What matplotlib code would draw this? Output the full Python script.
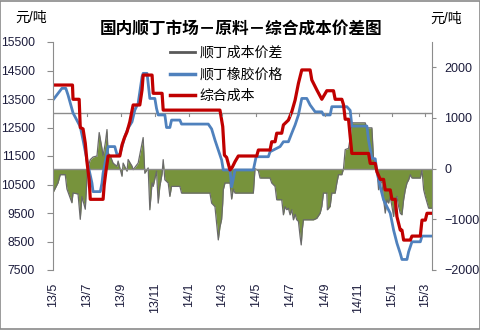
import pandas as pd
import matplotlib
matplotlib.use('Agg')
import matplotlib.pyplot as plt
from matplotlib.lines import Line2D
from matplotlib.patches import Rectangle

plt.rcParams['font.family'] = ['Liberation Sans', 'Noto Sans CJK SC']
plt.rcParams['axes.unicode_minus'] = True

# days counted from 2013-05-01
start = pd.Timestamp('2013-05-01')

rubber_day = [0, 16, 23, 27, 32, 36, 49, 54, 61, 70, 72, 85, 88, 90, 97, 99, 111, 115, 120, 124,
              129, 135, 142, 147, 153, 160, 162, 169, 171, 174, 183, 186, 189, 201, 204, 210, 213,
              228, 231, 279, 285, 291, 297, 303, 306, 318, 321, 324, 327, 360, 365, 387, 390, 408,
              414, 423, 429, 435, 441, 447, 456, 462, 471, 483, 486, 498, 501, 528, 534, 537, 564,
              567, 573, 579, 582, 588, 594, 600, 606, 612, 618, 624, 627, 636, 639, 645, 660, 663, 681]
rubber_price = [13465, 13875, 13875, 13640, 13290, 13010, 12530, 12060, 11360, 10550, 10250, 10250,
                10550, 10900, 11600, 11830, 11830, 11550, 11550, 11830, 12180, 12480, 12700, 13110,
                13350, 14280, 14400, 14400, 14050, 13520, 13520, 13170, 12940, 12940, 12500, 12500,
                12760, 12760, 12620, 12620, 12450, 12060, 11710, 11360, 11010, 11010, 10420, 10700,
                11010, 11010, 11475, 11475, 11650, 11830, 12000, 12000, 12300, 12590, 12940, 13520,
                13520, 13290, 13050, 13050, 12940, 12940, 13230, 13230, 13100, 12550, 12550, 12060,
                11420, 11400, 10950, 10420, 9960, 9720, 9490, 8900, 8440, 8080, 7870, 7870, 8140,
                8490, 8490, 8690, 8690]

cost_day = [0, 35, 36, 47, 49, 54, 58, 61, 65, 67, 90, 92, 95, 99, 120, 124, 128, 133, 138, 144,
            156, 160, 162, 178, 180, 196, 198, 300, 305, 308, 312, 318, 322, 327, 333, 366, 369,
            390, 393, 399, 402, 411, 414, 423, 429, 435, 441, 447, 462, 465, 474, 483, 492, 504,
            507, 519, 522, 525, 531, 534, 537, 567, 570, 579, 582, 588, 594, 597, 606, 609, 615,
            618, 624, 627, 630, 642, 645, 660, 663, 669, 672, 681]
cost_price = [13990, 13990, 13490, 13490, 12500, 12450, 11950, 11300, 10660, 9980, 9980, 10480,
              10950, 11500, 11500, 11890, 12120, 12350, 12700, 13290, 13290, 13820, 14340, 14340,
              13700, 13700, 13110, 13110, 12530, 11530, 11450, 11010, 11100, 11300, 11500, 11500,
              11710, 11710, 12000, 12000, 12300, 12300, 12590, 12760, 13050, 13460, 14050, 14520,
              14520, 14170, 13820, 13490, 13790, 13790, 13490, 13490, 13300, 12790, 12790, 12180,
              11590, 11590, 11240, 11240, 10950, 10680, 10680, 10310, 10310, 9980, 9980, 9370,
              8900, 8900, 8550, 8550, 8690, 8690, 9250, 9250, 9490, 9490]

spread_day = [0, 9, 13, 22, 25, 34, 36, 45, 49, 52, 58, 62, 67, 72, 79, 83, 88, 90, 94, 97, 99,
              103, 108, 115, 117, 124, 126, 133, 135, 142, 144, 153, 162, 165, 171, 174, 178, 180,
              186, 189, 192, 196, 198, 201, 207, 210, 213, 228, 231, 282, 285, 291, 294, 297, 300,
              303, 305, 306, 309, 318, 321, 324, 327, 360, 363, 369, 372, 390, 393, 399, 402, 411,
              414, 417, 420, 423, 426, 429, 432, 435, 438, 441, 444, 446, 448, 450, 468, 474, 480,
              483, 486, 492, 493, 498, 501, 507, 510, 513, 519, 522, 525, 531, 534, 537, 561, 564,
              573, 576, 579, 582, 585, 588, 591, 594, 597, 600, 603, 606, 609, 612, 615, 618, 621,
              624, 627, 630, 633, 636, 639, 642, 645, 660, 663, 666, 669, 675, 681]
spread = [-475, -280, -119, -119, -400, -673, -480, -500, -1000, -550, -800, 0, 178, 230, 250, 713,
          400, 250, 510, 772, 310, 250, 110, 45, 150, -150, 110, -50, 180, 50, -20, 110, 614, -90,
          15, -812, -280, -350, -50, -680, -350, -100, 178, -220, -283, -548, -350, -350, -482,
          -482, -680, -750, -1075, -1406, -1150, -1000, -680, -416, -283, -283, -600, -400, -482,
          -482, 0, -40, -185, -185, -283, -350, -614, -614, -911, -750, -810, -780, -911, -810,
          -1010, -900, -1010, -1040, -1340, -1505, -1200, -1010, -1010, -980, -880, -746, -482,
          -482, -812, -746, -482, -482, -283, -119, -119, 0, 376, 400, 600, 905, 905, 806, 806,
          178, 110, 0, -416, -220, -283, -614, -877, -614, -680, -548, -746, -944, -614, -548,
          -746, -880, -911, -614, -416, -283, -220, -119, -185, -185, -20, -416, -550, -780, -780]

tick_dates = ['2013-05-01', '2013-07-01', '2013-09-01', '2013-11-01', '2014-01-01', '2014-03-01',
              '2014-05-01', '2014-07-01', '2014-09-01', '2014-11-01', '2015-01-01', '2015-03-01']
tick_labels = ['13/5', '13/7', '13/9', '13/11', '14/1', '14/3',
               '14/5', '14/7', '14/9', '14/11', '15/1', '15/3']


def to_dates(days):
    return start + pd.to_timedelta(days, unit='D')


fig = plt.figure(figsize=(4.81, 3.30), dpi=100)
ax = fig.add_axes([53 / 481, 60 / 330, 379 / 481, 228 / 330])
ax2 = ax.twinx()
ax.set_zorder(2)
ax2.set_zorder(1)
ax.patch.set_visible(False)

grey = '#8c8c8c'
label_col = '#1c1c3c'

# spread as filled area on the right axis
sd = to_dates(spread_day)
ax2.fill_between(sd, spread, 0, color='#77933C', linewidth=0)
ax2.plot(sd, spread, color='#6a6a6a', linewidth=0.9)
ax2.axhline(0, color=grey, linewidth=1)
ax2.set_ylim(-2000, 2500)
ax2.set_yticks([-2000, -1000, 0, 1000, 2000])

ax.plot(to_dates(rubber_day), rubber_price, color='#4F81BD', linewidth=2.0)
ax.plot(to_dates(cost_day), cost_price, color='#C00000', linewidth=2.3)

# category axis line crossing at 13000 with small tick marks
ax.axhline(13000, color=grey, linewidth=1, zorder=1)
for d in pd.to_datetime(tick_dates):
    ax.plot([d, d], [13000, 12900], color=grey, linewidth=0.8)

ax.set_ylim(7500, 15500)
ax.set_yticks(range(7500, 15501, 1000))
ax.set_xlim(start, to_dates([681])[0])
ax.set_xticks(pd.to_datetime(tick_dates))
ax.set_xticklabels(tick_labels, rotation=90, va='top', ha='center')

for a in (ax, ax2):
    for s in ('top', 'bottom'):
        a.spines[s].set_visible(False)
    a.spines['left'].set_color(grey)
    a.spines['right'].set_color(grey)
ax.spines['right'].set_visible(False)
ax2.spines['left'].set_visible(False)

ax.tick_params(axis='y', direction='out', length=4, color=grey, labelsize=8.8, pad=9,
               labelcolor=label_col)
ax.tick_params(axis='x', length=0, labelsize=9, pad=9, labelcolor=label_col)
ax2.tick_params(axis='y', direction='out', length=3, color=grey, labelsize=9, pad=6,
                labelcolor=label_col)

handles = [Line2D([], [], color='#595959', linewidth=2.0),
           Line2D([], [], color='#4F81BD', linewidth=2.5),
           Line2D([], [], color='#C00000', linewidth=2.5)]
labels = ['顺丁成本价差', '顺丁橡胶价格', '综合成本']
fig.legend(handles, labels, loc='upper left', bbox_to_anchor=(170 / 481, 1 - 46 / 330),
           frameon=False, fontsize=10, handlelength=1.8, handletextpad=0.35,
           labelspacing=0.55, borderpad=0, borderaxespad=0)

fig.text(0.502, 1 - 30 / 330, '国内顺丁市场－原料－综合成本价差图', ha='center', va='center',
         fontsize=12, fontweight='bold', family=['Noto Sans CJK SC'])
fig.text(15 / 481, 1 - 18 / 330, '元/吨', ha='left', va='center', fontsize=10)
fig.text(430 / 481, 1 - 19 / 330, '元/吨', ha='left', va='center', fontsize=10)

fig.patches.append(Rectangle((0.001, 0.002), 0.997, 0.995, transform=fig.transFigure,
                             fill=False, edgecolor='#8a8a8a', linewidth=1.2))

fig.savefig('out.png', dpi=100)
